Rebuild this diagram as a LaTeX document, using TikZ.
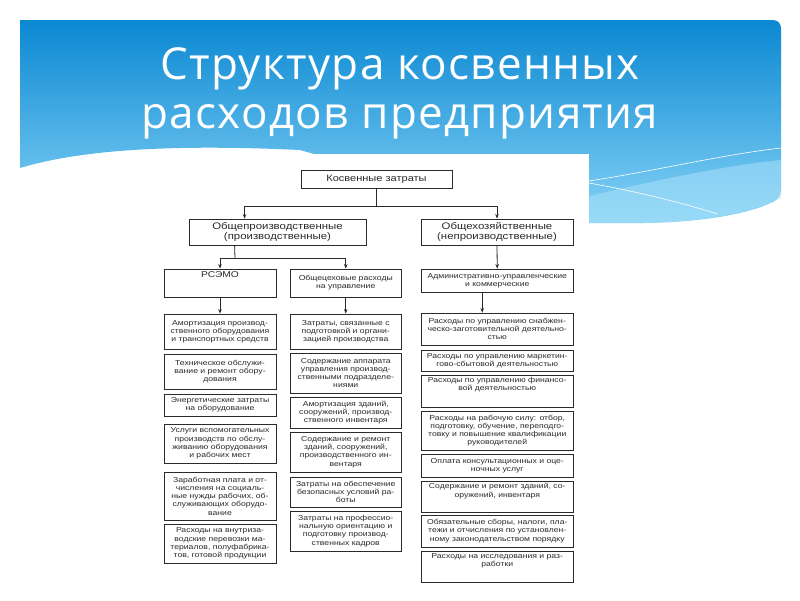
\documentclass[tikz,border=0pt]{standalone}
\usepackage{fontspec}
\setmainfont{Liberation Sans}
\newfontfamily\titlefont[LetterSpace=3]{Open Sans}
\newfontfamily\dfont[FakeStretch=1.2]{Liberation Sans}
\usetikzlibrary{arrows.meta}
\definecolor{bluetop}{HTML}{0B88D2}
\definecolor{bluebot}{HTML}{86D3F6}
\definecolor{bluelight}{HTML}{A9E0FA}
\definecolor{ink}{HTML}{2A2A2A}
\tikzset{
  dbox/.style={draw=ink, line width=0.8pt, inner sep=0pt, text=ink, fill=white},
  cline/.style={draw=ink, line width=0.8pt},
  arr/.style={cline, -{Stealth[length=4.5pt,width=3.5pt]}},
}
% name, x1, y1, x2, y2, inner pos (t/c), font size, text
\newcommand{\bx}[8]{%
  \node[dbox] (#1) at ({(#2+#4)/2},{(#3+#5)/2})
   {\parbox[c][\dimexpr #5pt-#3pt\relax][#6]{\dimexpr #4pt-#2pt\relax}{%
     \dfont\fontsize{#7}{8.2}\selectfont\centering
     \ifx t#6\vspace*{2.5pt}\fi #8\par}};}
\begin{document}
\begin{tikzpicture}[x=1pt,y=-1pt]
\useasboundingbox (0,0) rectangle (800,600);
\fill[white] (0,0) rectangle (800,600);
% header band
\shade[top color=bluetop, bottom color=bluebot, rounded corners=8pt]
  (20,20) -- (781,20) -- (781,198)
  [sharp corners] .. controls (740,218) and (680,224) .. (620,223)
  -- (560,223) -- (300,150) .. controls (150,143) and (70,153) .. (20,168) -- cycle;
\fill[bluelight, opacity=0.55] (589,196) .. controls (650,182) and (720,166) .. (781,160)
  -- (781,198) .. controls (740,218) and (680,224) .. (620,223) -- (589,223) -- cycle;
\draw[white, line width=0.6pt] (589,181) .. controls (660,170) and (720,155) .. (781,148);
\draw[white, line width=0.6pt] (589,183) .. controls (640,192) and (690,205) .. (717,214);
% title
\node[text=white, font=\titlefont\fontsize{44}{44}\selectfont, anchor=base] (t1) at (400,79) {Структура косвенных};
\node[text=white, font=\titlefont\fontsize{44}{44}\selectfont, anchor=base] (t2) at (400,128) {расходов предприятия};
% diagram sheet
\fill[white] (160,154) rectangle (589,590);
% top levels
\bx{kz}{301}{170}{452}{188}{c}{9.2}{Косвенные затраты}
\bx{op}{189}{219}{366}{245}{c}{9.5}{Общепроизводственные\\(производственные)}
\bx{oh}{421}{219}{573}{245}{c}{9.5}{Общехозяйственные\\(непроизводственные)}
\bx{r1}{164}{269}{276}{297}{t}{8.5}{РСЭМО}
\bx{r2}{290}{269}{401.5}{297}{c}{7.2}{Общецеховые расходы\\на управление}
\bx{r3}{421.5}{269}{573}{292}{c}{7.2}{Административно-управленческие\\и коммерческие}
% column 1
\bx{c1a}{164}{314}{276}{349}{c}{7.2}{Амортизация производ-\\ственного оборудования\\и транспортных средств}
\bx{c1b}{164}{354}{276}{389}{c}{7.2}{Техническое обслужи-\\вание и ремонт обору-\\дования}
\bx{c1c}{164}{394}{276}{416}{c}{7.2}{Энергетические затраты\\на оборудование}
\bx{c1d}{164}{424}{276}{463}{c}{7.2}{Услуги вспомогательных\\производств по обслу-\\живанию оборудования\\и рабочих мест}
\bx{c1e}{164}{472}{276}{520}{c}{7.2}{Заработная плата и от-\\числения на социаль-\\ные нужды рабочих, об-\\служивающих оборудо-\\вание}
\bx{c1f}{164}{524}{276}{563}{c}{7.2}{Расходы на внутриза-\\водские перевозки ма-\\териалов, полуфабрика-\\тов, готовой продукции}
% column 2
\bx{c2a}{290}{314}{401.5}{349}{c}{7.2}{Затраты, связанные с\\подготовкой и органи-\\зацией производства}
\bx{c2b}{290}{353}{401.5}{393}{c}{7.2}{Содержание аппарата\\управления производ-\\ственными подразделе-\\ниями}
\bx{c2c}{290}{397}{401.5}{428}{c}{7.2}{Амортизация зданий,\\сооружений, производ-\\ственного инвентаря}
\bx{c2d}{290}{432}{401.5}{472}{c}{7.2}{Содержание и ремонт\\зданий, сооружений,\\производственного ин-\\вентаря}
\bx{c2e}{290}{477}{401.5}{507}{c}{7.2}{Затраты на обеспечение\\безопасных условий ра-\\боты}
\bx{c2f}{290}{511}{401.5}{551}{c}{7.2}{Затраты на профессио-\\нальную ориентацию и\\подготовку производ-\\ственных кадров}
% column 3
\bx{c3a}{421.5}{313}{573}{345}{c}{7.2}{Расходы по управлению снабжен-\\ческо-заготовительной деятельно-\\стью}
\bx{c3b}{421.5}{350}{573}{371}{c}{7.2}{Расходы по управлению маркетин-\\гово-сбытовой деятельностью}
\bx{c3c}{421.5}{375}{573}{407}{t}{7.2}{Расходы по управлению финансо-\\вой деятельностью}
\bx{c3d}{421.5}{411}{573}{450}{c}{7.2}{Расходы на рабочую силу: отбор,\\подготовку, обучение, переподго-\\товку и повышение квалификации\\руководителей}
\bx{c3e}{421.5}{454}{573}{477}{c}{7.2}{Оплата консультационных и оце-\\ночных услуг}
\bx{c3f}{421.5}{481}{573}{512}{t}{7.2}{Содержание и ремонт зданий, со-\\оружений, инвентаря}
\bx{c3g}{421.5}{515}{573}{547}{c}{7.2}{Обязательные сборы, налоги, пла-\\тежи и отчисления по установлен-\\ному законодательством порядку}
\bx{c3h}{421.5}{551}{573}{582}{t}{7.2}{Расходы на исследования и раз-\\работки}
% connectors
\coordinate (j1) at (376.5,206);
\coordinate (j2) at (235,258);
\draw[cline] (kz.south) -- (j1);
\draw[arr] (j1) -| ([xshift=56pt]op.north west);
\draw[arr] (j1) -| (oh.north);
\draw[cline] ([xshift=46pt]op.south west) -- (j2);
\draw[arr] (j2) -| (r1.north);
\draw[arr] (j2) -| (r2.north);
\draw[arr] (oh.south) -- (r3.north);
\draw[arr] (r1.south) -- (c1a.north);
\draw[arr] (r2.south) -- (c2a.north);
\draw[arr] ([xshift=-15pt]r3.south) -- ([xshift=-15pt]c3a.north);
\end{tikzpicture}
\end{document}
